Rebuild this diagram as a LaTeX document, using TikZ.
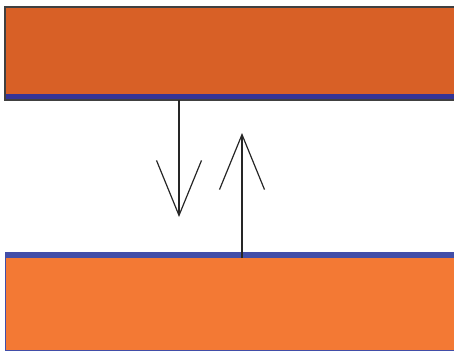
\documentclass[tikz,border=0pt]{standalone}
\usepackage{tikz}
\usetikzlibrary{arrows.meta}
\definecolor{upperslab}{RGB}{216, 96, 38}
\definecolor{lowerslab}{RGB}{243, 121, 52}
\definecolor{film}{RGB}{52, 52, 150}
\definecolor{filmlight}{RGB}{66, 78, 168}

\begin{document}
\begin{tikzpicture}[
    x=1pt, y=-1pt,
    flux/.style = {-{Straight Barb[length=55pt, width=45pt]}, line width=1.2pt,
                   color=black!85}
  ]
    \useasboundingbox (0,0) rectangle (454,351);

    % upper slab with its surface film
    \fill[upperslab] (5,7) rectangle (454,95);
    \fill[film] (5,94) rectangle (454,99.5);
    \draw[black!75, line width=1.2pt] (454,7) -- (5,7) -- (5,100) -- (454,100);

    % lower slab with its surface film
    \fill[lowerslab] (5,257) rectangle (454,350);
    \fill[filmlight] (5,252) rectangle (454,258);
    \draw[filmlight, line width=0.8pt] (454,252) -- (5,252) -- (5,350) -- (454,350);

    \coordinate (dstart) at (179,100);
    \coordinate (dend) at (179,217);
    \coordinate (ustart) at (242,258);
    \coordinate (uend) at (242,133);

    \draw[flux] (dstart) -- (dend);
    \draw[flux] (ustart) -- (uend);
  \end{tikzpicture}
\end{document}
